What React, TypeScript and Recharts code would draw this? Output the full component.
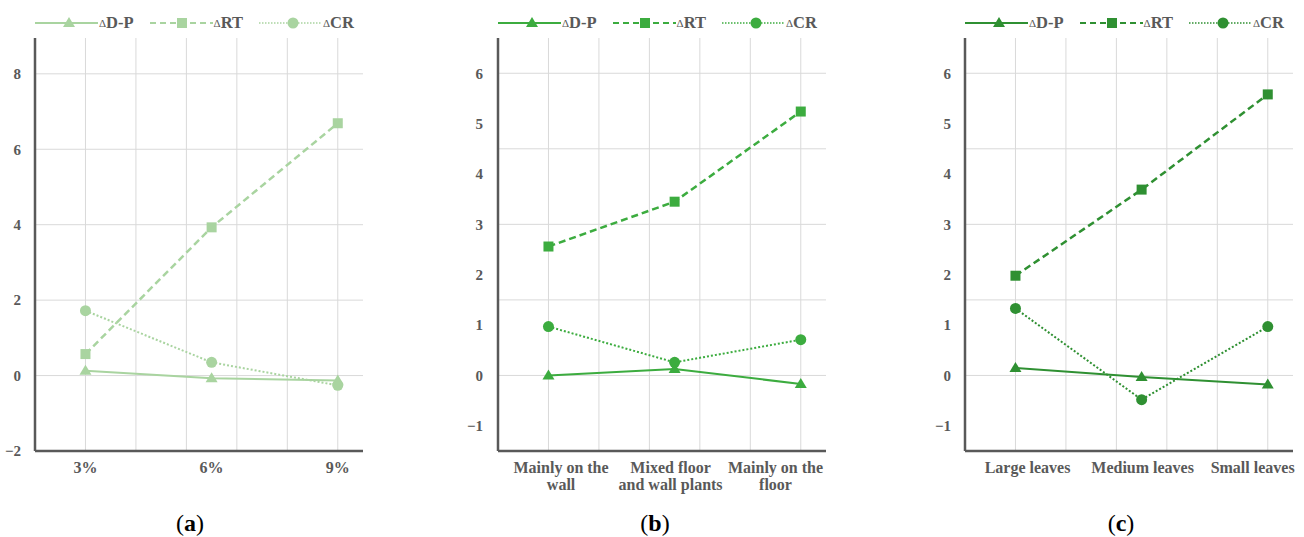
import React from 'react';
import { LineChart, Line, XAxis, YAxis, CartesianGrid } from 'recharts';

// ---------- data ----------
const CATS_A = ['3%', '6%', '9%'];
const CATS_B = ['Mainly on the\nwall', 'Mixed floor\nand wall plants', 'Mainly on the\nfloor'];
const CATS_C = ['Large leaves', 'Medium leaves', 'Small leaves'];

// slot positions of the three categories on the 0..6.5 grid axis
const SLOTS = [1, 3.5, 6];
const LABEL_POS_A = [1, 3.5, 6];
const LABEL_POS_B = [1.25, 3.42, 5.5];
const LABEL_POS_C = [1.24, 3.52, 5.7];

const A_DP = [0.13, -0.07, -0.13];
const A_RT = [0.57, 3.93, 6.69];
const A_CR = [1.72, 0.35, -0.26];

const B_DP = [0.0, 0.13, -0.17];
const B_RT = [2.56, 3.45, 5.24];
const B_CR = [0.97, 0.26, 0.71];

const C_DP = [0.15, -0.03, -0.18];
const C_RT = [1.98, 3.69, 5.58];
const C_CR = [1.33, -0.48, 0.97];

const Y_TICKS_A = [-2, 0, 2, 4, 6, 8];
const Y_TICKS_BC = [-1, 0, 1, 2, 3, 4, 5, 6];
const GRID_Y_A = [-2, 0, 2, 4, 6, 8];
const GRID_Y_BC = [-1.5, 0, 1.5, 3, 4.5, 6];
const GRID_X = [1, 2, 3, 4, 5, 6];
const X_DOMAIN: [number, number] = [0, 6.5];

const SERIES_NAMES = ['D-P', 'RT', 'CR'];

// ---------- styles ----------
const AXIS = '#595959';
const GRID = '#d9d9d9';
const FONT = '"Liberation Serif", "Times New Roman", serif';

type Shape = 'triangle' | 'square' | 'circle';

function Marker({ cx, cy, shape, color }: { cx: number; cy: number; shape: Shape; color: string }) {
  if (cx == null || cy == null) return null;
  if (shape === 'triangle') {
    const h = 10, w = 12;
    return <polygon points={`${cx},${cy - h * 0.6} ${cx - w / 2},${cy + h * 0.4} ${cx + w / 2},${cy + h * 0.4}`} fill={color} />;
  }
  if (shape === 'square') {
    return <rect x={cx - 5} y={cy - 5} width={10} height={10} fill={color} />;
  }
  return <circle cx={cx} cy={cy} r={5.5} fill={color} />;
}

const SHAPES: Shape[] = ['triangle', 'square', 'circle'];
const DASHES = [undefined, '7 4', '2 2'];
const WIDTHS = [2, 2.5, 2];

function fmtY(v: number) {
  return v < 0 ? '\u2212' + Math.abs(v) : String(v);
}

function YTick(props: any) {
  const { x, y, payload } = props;
  return (
    <text x={x} y={y} dy="0.35em" textAnchor="end" fill={AXIS} fontFamily={FONT} fontWeight="bold" fontSize={15}>
      {fmtY(payload.value)}
    </text>
  );
}

function makeXTick(cats: string[], pos: number[]) {
  return function XTick(props: any) {
    const { x, y, payload } = props;
    let idx = pos.findIndex((p) => Math.abs(p - payload.value) < 1e-6);
    if (idx < 0) idx = props.index;
    const lines = (cats[idx] || '').split('\n');
    return (
      <text x={x} y={y} textAnchor="middle" fill={AXIS} fontFamily={FONT} fontWeight="bold" fontSize={16}>
        {lines.map((l, i) => (
          <tspan key={i} x={x} dy={i === 0 ? 20 : 16.5}>{l}</tspan>
        ))}
      </text>
    );
  };
}

function Legend({ color, left }: { color: string; left: number }) {
  return (
    <div style={{ position: 'absolute', left, top: 13, display: 'flex', alignItems: 'center', fontFamily: FONT, color: AXIS }}>
      {SERIES_NAMES.map((n, i) => (
        <div key={n} style={{ display: 'flex', alignItems: 'center', marginRight: i < 2 ? 16 : 0 }}>
          <svg width={63} height={18} style={{ display: 'block' }}>
            <line x1={0} y1={9} x2={63} y2={9} stroke={color} strokeWidth={i === 2 ? 1.5 : 1.8} strokeDasharray={i === 1 ? '6 4' : i === 2 ? '1.5 1.5' : undefined} />
            <Marker cx={i === 1 ? 32 : 34} cy={9} shape={SHAPES[i]} color={color} />
          </svg>
          <span style={{ fontSize: 11, marginLeft: 1 }}>{'\u0394'}</span>
          <span style={{ fontSize: 16.5, fontWeight: 'bold' }}>{n}</span>
        </div>
      ))}
    </div>
  );
}

interface PanelProps {
  left: number;
  width: number;
  yAxisWidth: number;
  tickGap: number;
  color: string;
  cats: string[];
  labelPos: number[];
  dp: number[];
  rt: number[];
  cr: number[];
  yDomain: [number, number];
  yTicks: number[];
  gridY: number[];
  caption: string;
  captionX: number;
}

function Panel(p: PanelProps) {
  const data = SLOTS.map((x, i) => ({ x, dp: p.dp[i], rt: p.rt[i], cr: p.cr[i] }));
  const plotLeft = p.left + p.yAxisWidth;
  const XT = makeXTick(p.cats, p.labelPos);

  const vGen = (args: any) => {
    const sc = args?.xAxis?.scale;
    if (typeof sc === 'function') return GRID_X.map((v) => sc(v));
    const off = args.offset;
    return GRID_X.map((v) => off.left + ((v - X_DOMAIN[0]) / (X_DOMAIN[1] - X_DOMAIN[0])) * off.width);
  };
  const hGen = (args: any) => {
    const sc = args?.yAxis?.scale;
    if (typeof sc === 'function') return p.gridY.map((v) => sc(v));
    const off = args.offset;
    return p.gridY.map((v) => off.top + ((p.yDomain[1] - v) / (p.yDomain[1] - p.yDomain[0])) * off.height);
  };

  return (
    <>
      <Legend color={p.color} left={plotLeft} />
      <div style={{ position: 'absolute', left: p.left, top: 0 }}>
        <LineChart width={p.width} height={537} data={data} margin={{ top: 38, right: p.width - p.yAxisWidth - 328, bottom: 26, left: 0 }}>
          <CartesianGrid stroke={GRID} strokeWidth={1} verticalCoordinatesGenerator={vGen} horizontalCoordinatesGenerator={hGen} />
          <XAxis
            dataKey="x"
            type="number"
            domain={X_DOMAIN}
            ticks={p.labelPos}
            interval={0}
            allowDataOverflow
            height={60}
            axisLine={{ stroke: AXIS, strokeWidth: 2.5 }}
            tickLine={false}
            tickSize={0}
            tick={<XT />}
          />
          <YAxis
            type="number"
            domain={p.yDomain}
            ticks={p.yTicks}
            interval={0}
            allowDataOverflow
            width={p.yAxisWidth}
            axisLine={{ stroke: AXIS, strokeWidth: 2.5 }}
            tickLine={false}
            tickSize={0}
            tickMargin={p.tickGap}
            tick={<YTick />}
          />
          {(['dp', 'rt', 'cr'] as const).map((k, i) => (
            <Line
              key={k}
              dataKey={k}
              stroke={p.color}
              strokeWidth={WIDTHS[i]}
              strokeDasharray={DASHES[i]}
              isAnimationActive={false}
              dot={(d: any) => <Marker key={`${k}-${d.index}`} cx={d.cx} cy={d.cy} shape={SHAPES[i]} color={p.color} />}
              activeDot={false}
            />
          ))}
        </LineChart>
      </div>
      <div style={{ position: 'absolute', left: p.captionX - 40, width: 80, top: 509, textAlign: 'center', fontFamily: FONT, fontSize: 24, lineHeight: '28px', color: '#000' }}>
        (<b>{p.caption}</b>)
      </div>
    </>
  );
}

export default function App() {
  return (
    <div style={{ position: 'absolute', left: 0, top: 0, width: 1304, height: 537, background: '#fff', overflow: 'hidden' }}>
      <Panel left={0} width={380} yAxisWidth={35} tickGap={14} color="#a9d4a0" cats={CATS_A} labelPos={LABEL_POS_A}
        dp={A_DP} rt={A_RT} cr={A_CR} yDomain={[-2, 8.95]} yTicks={Y_TICKS_A} gridY={GRID_Y_A} caption="a" captionX={190} />
      <Panel left={440} width={400} yAxisWidth={58} tickGap={15} color="#3cac3f" cats={CATS_B} labelPos={LABEL_POS_B}
        dp={B_DP} rt={B_RT} cr={B_CR} yDomain={[-1.5, 6.7]} yTicks={Y_TICKS_BC} gridY={GRID_Y_BC} caption="b" captionX={655} />
      <Panel left={900} width={404} yAxisWidth={65} tickGap={14} color="#2f9032" cats={CATS_C} labelPos={LABEL_POS_C}
        dp={C_DP} rt={C_RT} cr={C_CR} yDomain={[-1.5, 6.7]} yTicks={Y_TICKS_BC} gridY={GRID_Y_BC} caption="c" captionX={1121} />
    </div>
  );
}
